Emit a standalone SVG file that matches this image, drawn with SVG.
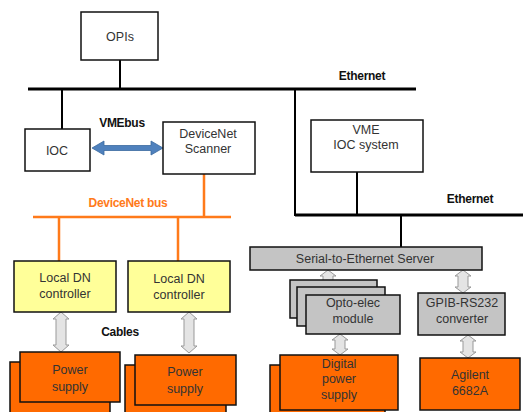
<svg xmlns="http://www.w3.org/2000/svg" width="523" height="412" viewBox="0 0 523 412">
<style>
text{font-family:"Liberation Sans",Arial,sans-serif;font-size:12.5px;fill:#333;text-anchor:middle}
.lbl{font-weight:bold;font-size:12px;fill:#111;letter-spacing:-0.3px}
.w{fill:#fff;stroke:#111;stroke-width:1.5}
.y{fill:#ffff99;stroke:#111;stroke-width:1.5}
.g{fill:#c4c4c4;stroke:#111;stroke-width:1.5}
.o{fill:#ff6a00;stroke:#111;stroke-width:1.5}
.bus{stroke:#000;stroke-width:3;fill:none}
.ln{stroke:#000;stroke-width:2;fill:none}
.or{stroke:#ff7a1a;stroke-width:2.5;fill:none}
.ga{fill:#e4e4e4;stroke:#999;stroke-width:1}
</style>
<rect width="523" height="412" fill="#fff"/>
<g id="connectors">
<path class="bus" d="M28 89H416"/>
<path class="ln" d="M120 60V89M62 89V129M295 89V216M357 172V215M401 215V247"/>
<path class="bus" d="M295 215H523"/>
<path class="or" d="M204 174V217M33 217H231M59 217V261M178 217V261"/>
<path d="M92 148L104 141V145.5H151V141L163 148L151 155V150.5H104V155Z" fill="#4f81bd" stroke="#3a6a9f" stroke-width="0.8"/>
<path class="ga" d="M61 312L69 319H66V345H69L61 352L53 345H56V319H53Z"/>
<path class="ga" d="M189 312L197 319H194V346H197L189 353L181 346H184V319H181Z"/>
<path class="ga" d="M328 270L336 276H333V284H336L328 290L320 284H323V276H320Z"/>
<path class="ga" d="M463 270L471 276H468V287H471L463 293L455 287H458V276H455Z"/>
<path class="ga" d="M340 334L348 340H345V349H348L340 355L332 349H335V340H332Z"/>
<path class="ga" d="M468 335L476 341H473V352H476L468 358L460 352H463V341H460Z"/>
<text class="lbl" x="362" y="80">Ethernet</text>
<text class="lbl" x="470" y="203">Ethernet</text>
<text class="lbl" x="122" y="127">VMEbus</text>
<text class="lbl" x="128" y="207" style="fill:#ff7a1a">DeviceNet bus</text>
<text class="lbl" x="120" y="336">Cables</text>
</g>
<g id="opis"><rect class="w" x="81" y="12" width="77" height="48"/><text x="120" y="41">OPIs</text></g>
<g id="ioc"><rect class="w" x="25" y="129" width="65" height="42"/><text x="57" y="155">IOC</text></g>
<g id="scanner"><rect class="w" x="163" y="122" width="92" height="52"/><text x="208" y="138">DeviceNet</text><text x="208" y="153">Scanner</text></g>
<g id="vmeioc"><rect class="w" x="311" y="120" width="112" height="52"/><text x="366" y="134">VME</text><text x="366" y="149">IOC system</text></g>
<g id="serial"><rect class="g" x="250" y="247" width="232" height="23"/><text x="365" y="263">Serial-to-Ethernet Server</text></g>
<g id="dn1"><rect class="y" x="14" y="261" width="102" height="51"/><text x="65" y="282">Local DN</text><text x="65" y="298">controller</text></g>
<g id="dn2"><rect class="y" x="128" y="261" width="102" height="51"/><text x="179" y="283">Local DN</text><text x="179" y="299">controller</text></g>
<g id="ps1"><rect class="o" x="10" y="362" width="100" height="55"/><rect class="o" x="20" y="352" width="100" height="50"/><text x="70" y="374">Power</text><text x="70" y="391">supply</text></g>
<g id="ps2"><rect class="o" x="125" y="365" width="101" height="55"/><rect class="o" x="135" y="355" width="101" height="50"/><text x="185" y="376">Power</text><text x="185" y="393">supply</text></g>
<g id="opto"><rect class="g" x="290" y="280" width="87" height="38"/><rect class="g" x="297" y="287" width="88" height="39"/><rect class="g" x="306" y="295" width="94" height="39"/><text x="353" y="307">Opto-elec</text><text x="353" y="323">module</text></g>
<g id="gpib"><rect class="g" x="418" y="293" width="87" height="42"/><text x="462" y="307">GPIB-RS232</text><text x="462" y="323">converter</text></g>
<g id="dps"><rect class="o" x="270" y="365" width="115" height="55"/><rect class="o" x="280" y="355" width="118" height="55"/><text x="339" y="368">Digital</text><text x="339" y="383">power</text><text x="339" y="399">supply</text></g>
<g id="agilent"><rect class="o" x="420" y="358" width="100" height="52"/><text x="470" y="379">Agilent</text><text x="470" y="395">6682A</text></g>
</svg>
